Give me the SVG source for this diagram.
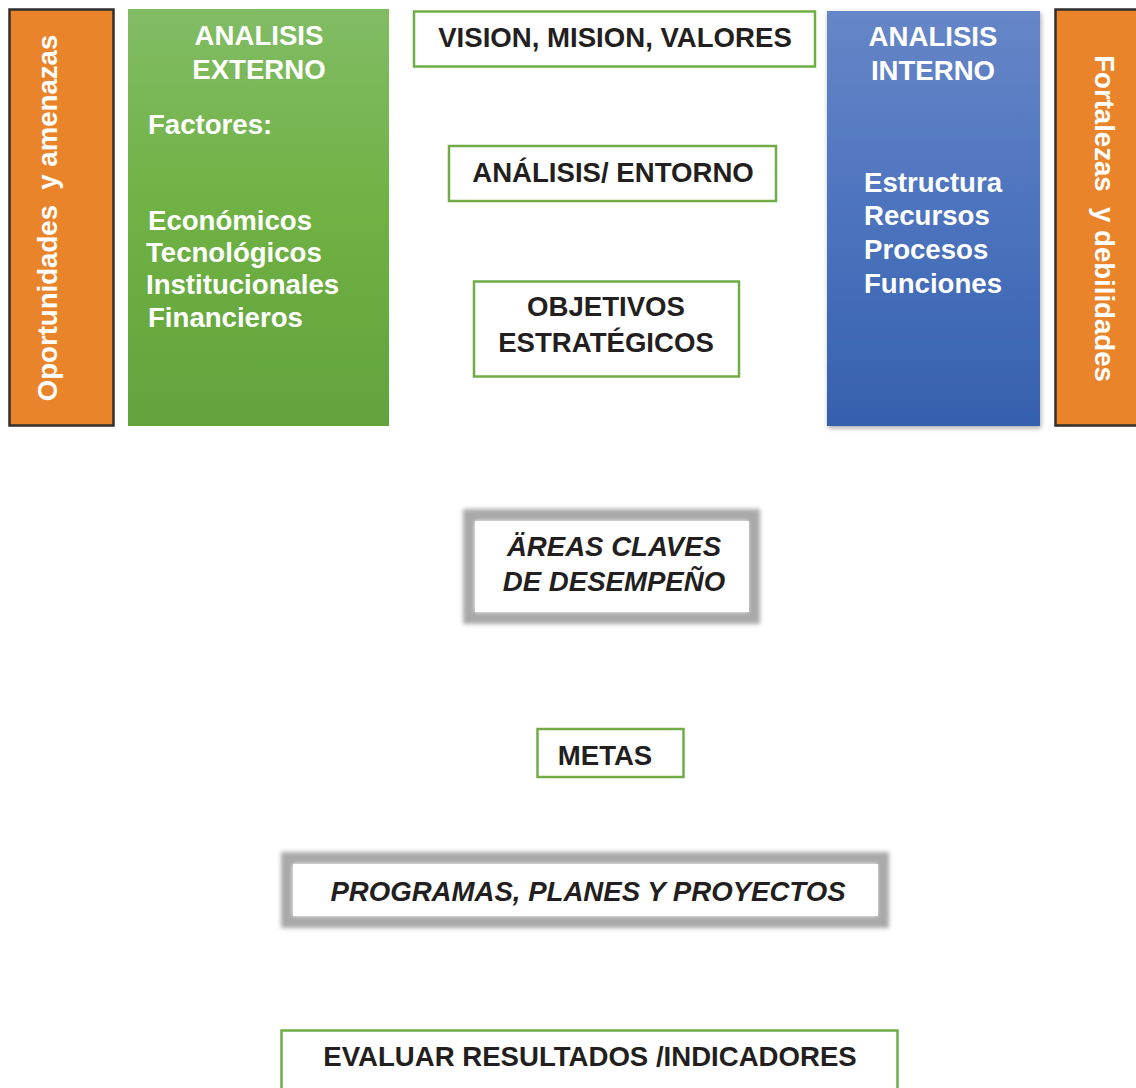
<svg xmlns="http://www.w3.org/2000/svg" width="1136" height="1088" viewBox="0 0 1136 1088">
  <defs>
    <linearGradient id="gGreen" x1="0" y1="0" x2="0" y2="1">
      <stop offset="0" stop-color="#81BC64"/>
      <stop offset="0.5" stop-color="#6FB143"/>
      <stop offset="1" stop-color="#62A33E"/>
    </linearGradient>
    <linearGradient id="gBlue" x1="0" y1="0" x2="0" y2="1">
      <stop offset="0" stop-color="#6686C7"/>
      <stop offset="0.5" stop-color="#4C73BE"/>
      <stop offset="1" stop-color="#3560AE"/>
    </linearGradient>
    <filter id="shadow" x="-10%" y="-10%" width="120%" height="120%">
      <feDropShadow dx="1" dy="2" stdDeviation="2.5" flood-color="#000" flood-opacity="0.35"/>
    </filter>
    <filter id="blur" x="-10%" y="-30%" width="120%" height="160%">
      <feGaussianBlur stdDeviation="2"/>
    </filter>
  </defs>
  <style>
    text { font-family: "Liberation Sans", Arial, sans-serif; font-weight: bold; font-size: 27.6px; }
    .w { fill: #FFFFFF; }
    .k { fill: #231F20; }
    .it { font-style: italic; }
    .mid { text-anchor: middle; }
    .orange { fill: #E9842A; stroke: #2F2F2F; stroke-width: 2.5; }
    .gbox { fill: #FFFFFF; stroke: #70AD47; stroke-width: 2.5; }
    .frame { fill: none; stroke: #A9A9A9; stroke-width: 12; }
  </style>

  <rect width="1136" height="1088" fill="#FFFFFF"/>

  <g id="oportunidades">
    <rect class="orange" x="9.5" y="9.5" width="104" height="416"/>
    <text class="w mid" transform="translate(57,218) rotate(-90)" xml:space="preserve">Oportunidades  y amenazas</text>
  </g>

  <g id="analisis-externo">
    <rect x="128" y="9" width="261" height="417" fill="url(#gGreen)"/>
    <text class="w mid" x="259" y="45">ANALISIS</text>
    <text class="w mid" x="259" y="79">EXTERNO</text>
    <text class="w" x="148" y="134">Factores:</text>
    <text class="w" x="148" y="230">Económicos</text>
    <text class="w" x="146" y="262">Tecnológicos</text>
    <text class="w" x="146" y="294">Institucionales</text>
    <text class="w" x="148" y="327">Financieros</text>
  </g>

  <g id="vision">
    <rect class="gbox" x="414" y="11.5" width="401" height="55"/>
    <text class="k mid" x="615" y="47">VISION, MISION, VALORES</text>
  </g>

  <g id="analisis-entorno">
    <rect class="gbox" x="449" y="146" width="327" height="55"/>
    <text class="k mid" x="613" y="182">ANÁLISIS/ ENTORNO</text>
  </g>

  <g id="objetivos">
    <rect class="gbox" x="474" y="281.5" width="265" height="95"/>
    <text class="k mid" x="606" y="316">OBJETIVOS</text>
    <text class="k mid" x="606" y="352">ESTRATÉGICOS</text>
  </g>

  <g id="analisis-interno">
    <rect x="827" y="11" width="213" height="415" fill="url(#gBlue)" filter="url(#shadow)"/>
    <text class="w mid" x="933" y="46">ANALISIS</text>
    <text class="w mid" x="933" y="80">INTERNO</text>
    <text class="w" x="864" y="192">Estructura</text>
    <text class="w" x="864" y="225">Recursos</text>
    <text class="w" x="864" y="259">Procesos</text>
    <text class="w" x="864" y="293">Funciones</text>
  </g>

  <g id="fortalezas">
    <rect class="orange" x="1055.5" y="9.5" width="90" height="416"/>
    <text class="w mid" transform="translate(1095,218.5) rotate(90)" xml:space="preserve">Fortalezas  y debilidades</text>
  </g>

  <g id="areas-claves">
    <rect class="frame" x="469" y="515" width="285" height="103" filter="url(#blur)"/>
    <rect x="475" y="521" width="274" height="91" fill="#FFFFFF"/>
    <text class="k mid it" x="614" y="556">ÄREAS CLAVES</text>
    <text class="k mid it" x="614" y="591">DE DESEMPEÑO</text>
  </g>

  <g id="metas">
    <rect class="gbox" x="537.5" y="729" width="146" height="48"/>
    <text class="k mid" x="605" y="765">METAS</text>
  </g>

  <g id="programas">
    <rect class="frame" x="287" y="858" width="596" height="64" filter="url(#blur)"/>
    <rect x="293" y="864" width="585" height="52" fill="#FFFFFF"/>
    <text class="k mid it" x="588" y="901">PROGRAMAS, PLANES Y PROYECTOS</text>
  </g>

  <g id="evaluar">
    <rect class="gbox" x="281.5" y="1030.5" width="616" height="70"/>
    <text class="k mid" x="590" y="1066">EVALUAR RESULTADOS /INDICADORES</text>
  </g>

  <g id="connectors"></g>
</svg>
